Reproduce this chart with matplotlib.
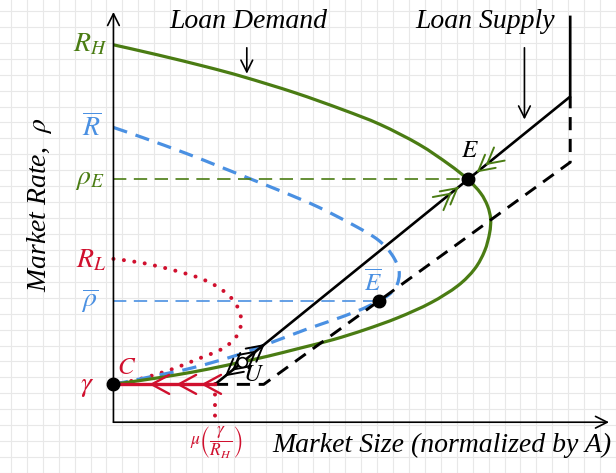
import numpy as np
import matplotlib
matplotlib.use("Agg")
import matplotlib.pyplot as plt
from matplotlib.path import Path
from matplotlib.patches import PathPatch

plt.rcParams["mathtext.fontset"] = "stix"
plt.rcParams["font.family"] = ["Liberation Serif", "DejaVu Serif"]

# ---- levels (data units) ----
GAMMA = 0.38
RHO_BAR = 1.22
R_L = 1.64
RHO_E = 2.44
R_BAR = 2.96
R_H = 3.79
MU = 1.02          # mu(gamma / R_H)

# equilibrium points
E_PT = (3.56, 2.44)
EBAR_PT = (2.67, 1.22)
U_PT = (1.29, 0.605)
C_PT = (0.0, GAMMA)

# ---- curves ----
demand_x = [0.00, 0.44, 0.93, 1.30, 1.82, 2.30, 2.68, 3.07, 3.37, 3.56, 3.69, 3.76, 3.79,
            3.78, 3.73, 3.63, 3.46, 3.19, 2.86, 2.53, 2.21, 1.86, 1.56, 1.29, 0.96, 0.63, 0.29, 0.00]
demand_y = [3.79, 3.69, 3.57, 3.47, 3.31, 3.14, 2.99, 2.79, 2.59, 2.44, 2.30, 2.17, 2.04,
            1.90, 1.72, 1.54, 1.37, 1.20, 1.05, 0.93, 0.83, 0.74, 0.665, 0.605, 0.535, 0.475, 0.422, 0.38]

demand_bar_x = [0.00, 0.29, 0.73, 1.06, 1.36, 1.71, 2.06, 2.43, 2.66, 2.80, 2.87, 2.85, 2.78,
                2.67, 2.46, 2.16, 1.93, 1.56, 1.23, 0.79, 0.39, 0.00]
demand_bar_y = [2.96, 2.86, 2.70, 2.57, 2.45, 2.31, 2.16, 1.97, 1.83, 1.68, 1.52, 1.38, 1.29,
                1.22, 1.12, 1.01, 0.93, 0.79, 0.67, 0.545, 0.46, 0.38]

demand_low_x = [0.00, 0.29, 0.59, 0.86, 1.06, 1.20, 1.27, 1.28, 1.22, 1.08, 0.86, 0.61, 0.36, 0.16, 0.00]
demand_low_y = [1.64, 1.60, 1.53, 1.45, 1.35, 1.23, 1.10, 0.97, 0.84, 0.73, 0.64, 0.54, 0.46, 0.41, 0.38]

supply_x = [MU, 4.59, 4.59]
supply_y = [GAMMA, 3.27, 4.07]
supply_low_x = [MU, 1.51, 4.59, 4.59]
supply_low_y = [GAMMA, GAMMA, 2.61, 3.27]

GREEN = "#4a7c13"
BLUE = "#4a90e2"
RED = "#d0102e"

fig = plt.figure(figsize=(6.16, 4.73), dpi=100)
ax = fig.add_axes([0, 0, 1, 1])
ax.set_xlim(-1.14, 5.02)
ax.set_ylim(-0.49, 4.24)

# background grid
ax.set_xticks(np.arange(-1.03, 5.1, 0.16))
ax.set_yticks(np.arange(4.13, -0.6, -0.16))
ax.grid(True, color="#e8e8e8", lw=0.8)
ax.tick_params(length=0, labelbottom=False, labelleft=False)
for s in ax.spines.values():
    s.set_visible(False)
ax.set_axisbelow(True)

AX_ARROW = dict(arrowstyle="->,head_length=0.6,head_width=0.3", lw=1.2, color="black",
                shrinkA=0, shrinkB=0, mutation_scale=14)
ax.annotate("", xy=(4.98, 0), xytext=(0, 0), arrowprops=AX_ARROW)
ax.annotate("", xy=(0, 4.12), xytext=(0, 0), arrowprops=AX_ARROW)


def smooth_curve(xs, ys, **kw):
    """Draw a smooth curve through the traced points (Catmull-Rom as Bezier path)."""
    p = np.column_stack([xs, ys]).astype(float)
    ext = np.vstack([p[0], p, p[-1]])
    verts = [p[0]]
    codes = [Path.MOVETO]
    for i in range(1, len(ext) - 2):
        p0, p1, p2, p3 = ext[i - 1], ext[i], ext[i + 1], ext[i + 2]
        verts += [p1 + (p2 - p0) / 6.0, p2 - (p3 - p1) / 6.0, p2]
        codes += [Path.CURVE4] * 3
    patch = PathPatch(Path(verts, codes), fill=False, **kw)
    ax.add_patch(patch)
    return patch


# reference dashed levels
ax.plot([0, E_PT[0]], [RHO_E, RHO_E], color=GREEN, lw=1.2, dashes=(8, 4.5))
ax.plot([0, EBAR_PT[0]], [RHO_BAR, RHO_BAR], color=BLUE, lw=1.2, dashes=(8, 4.5))

# curves
smooth_curve(demand_low_x, demand_low_y, color=RED, lw=2.9, linestyle=(0, (0.01, 2.6)),
             capstyle="round")
ax.plot([MU, MU], [GAMMA, 0.04], color=RED, lw=2.9, dashes=(0.01, 2.6), dash_capstyle="round")
smooth_curve(demand_bar_x, demand_bar_y, color=BLUE, lw=2.3, linestyle=(0, (4.5, 2.8)))
ax.plot(supply_low_x, supply_low_y, color="black", lw=2.1, dashes=(4.5, 3.0))
ax.plot(supply_x, supply_y, color="black", lw=1.9, solid_joinstyle="miter")
smooth_curve(demand_x, demand_y, color=GREEN, lw=2.3)
ax.plot([0, MU], [GAMMA, GAMMA], color=RED, lw=2.4)


def head(tip, direction, color, lw=1.4, scale=16):
    d = np.asarray(direction, float)
    d = d / np.hypot(*d)
    tail = np.asarray(tip) - 0.02 * d
    ax.annotate("", xy=tip, xytext=tuple(tail),
                arrowprops=dict(arrowstyle="->,head_length=0.7,head_width=0.38", lw=lw, color=color,
                                shrinkA=0, shrinkB=0, mutation_scale=scale))


slope = (supply_y[1] - supply_y[0]) / (supply_x[1] - supply_x[0])
up = (1.0, slope)
down = (-1.0, -slope)


def on_supply(x):
    return (x, GAMMA + slope * (x - MU))


# red arrows along gamma line
for xt in [0.36, 0.63, 0.88]:
    head((xt, GAMMA), (-1, 0), RED, lw=1.7, scale=18)
# black arrows around U
for xt in [1.44, 1.52]:
    head(on_supply(xt), up, "black")
for xt in [1.12, 1.19]:
    head(on_supply(xt), down, "black")
# green arrows around E
for xt in [3.40, 3.47]:
    head(on_supply(xt), up, GREEN)
for xt in [3.65, 3.74]:
    head(on_supply(xt), down, GREEN)

# points
ax.plot(*E_PT, "o", color="black", ms=9, zorder=5)
ax.plot(*EBAR_PT, "o", color="black", ms=9, zorder=5)
ax.plot(*C_PT, "o", color="black", ms=9, zorder=5)
ax.plot(*U_PT, "o", mfc="white", mec="black", mew=1.2, ms=7, zorder=5)

FS = 20
ax.text(-0.23, R_H, r"$R_H$", color=GREEN, fontsize=FS, ha="center", va="center")
ax.text(-0.22, R_BAR, r"$\overline{R}$", color=BLUE, fontsize=FS, ha="center", va="center")
ax.text(-0.24, RHO_E, r"$\rho_E$", color=GREEN, fontsize=FS, ha="center", va="center")
ax.text(-0.22, R_L - 0.02, r"$R_L$", color=RED, fontsize=FS, ha="center", va="center")
ax.text(-0.24, RHO_BAR, r"$\overline{\rho}$", color=BLUE, fontsize=FS, ha="center", va="center")
ax.text(-0.26, GAMMA - 0.02, r"$\gamma$", color=RED, fontsize=FS, ha="center", va="center")
ax.text(0.13, 0.54, r"$C$", color=RED, fontsize=FS - 2, ha="center", va="center")
ax.text(1.41, 0.47, r"$U$", color="black", fontsize=FS - 2, ha="center", va="center")
ax.text(3.58, 2.72, r"$E$", color="black", fontsize=FS - 2, ha="center", va="center")
ax.text(2.61, 1.41, r"$\overline{E}$", color=BLUE, fontsize=FS - 2, ha="center", va="center")
ax.text(1.03, -0.20, r"$\mu\left(\dfrac{\gamma}{R_H}\right)$", color=RED, fontsize=12.5,
        ha="center", va="center")

ax.text(1.36, 4.02, "Loan Demand", style="italic", fontsize=FS, ha="center", va="center")
ax.annotate("", xy=(1.34, 3.50), xytext=(1.34, 3.76), arrowprops=AX_ARROW)
ax.text(3.74, 4.02, "Loan Supply", style="italic", fontsize=FS, ha="center", va="center")
ax.annotate("", xy=(4.13, 3.04), xytext=(4.13, 3.76), arrowprops=AX_ARROW)

ax.text(-0.74, 2.18, r"Market Rate,  $\rho$", style="italic", fontsize=FS, rotation=90,
        ha="center", va="center")
ax.text(3.30, -0.23, "Market Size (normalized by A)", style="italic", fontsize=FS,
        ha="center", va="center")

fig.savefig("out.png", dpi=100)
